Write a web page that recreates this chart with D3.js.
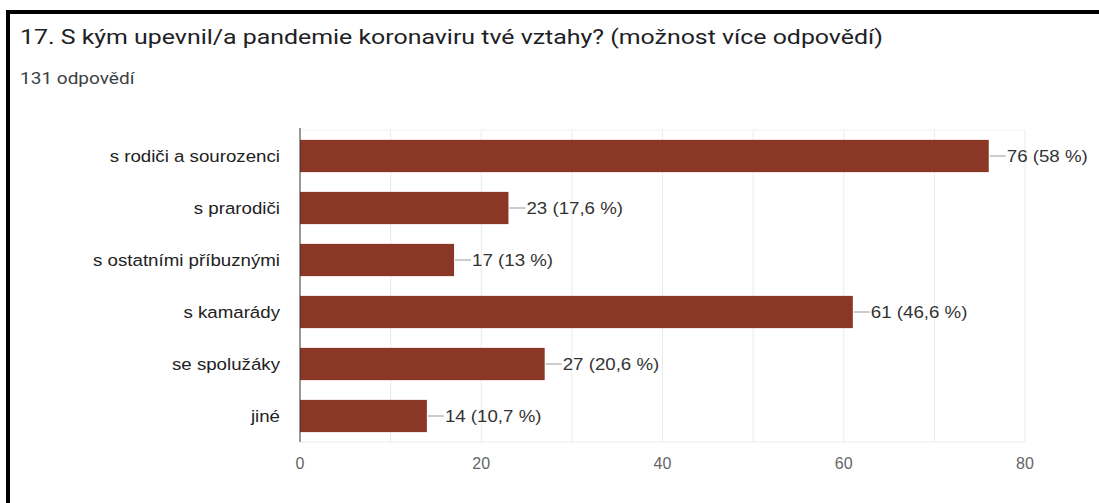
<!DOCTYPE html>
<html>
<head>
<meta charset="utf-8">
<script src="https://cdn.jsdelivr.net/npm/d3@7"></script>
<style>
  body { margin: 0; background: #fff; }
  svg { display: block; }
</style>
</head>
<body>
<svg id="chart" width="1099" height="503"></svg>
<script>
// data
var categories = ["s rodiči a sourozenci", "s prarodiči", "s ostatními příbuznými", "s kamarády", "se spolužáky", "jiné"];
var counts = [76, 23, 17, 61, 27, 14];
var percents = ["58 %", "17,6 %", "13 %", "46,6 %", "20,6 %", "10,7 %"];
var xTicks = [0, 20, 40, 60, 80];
var gridTicks = [10, 20, 30, 40, 50, 60, 70, 80];
var title = "17. S kým upevnil/a pandemie koronaviru tvé vztahy? (možnost více odpovědí)";
var subtitle = "131 odpovědí";

function vis_bars() {
  var svg = d3.select("#chart");

  // frame (top + left thick border)
  svg.append("rect").attr("x", 6).attr("y", 10).attr("width", 1099).attr("height", 4).attr("fill", "#000");
  svg.append("rect").attr("x", 6).attr("y", 10).attr("width", 4).attr("height", 503).attr("fill", "#000");

  // screenshot text is a bit stretched sideways, so scale x only
  svg.append("text")
    .attr("transform", "translate(20,44) scale(1.245,1)")
    .style("font-family", "Roboto, sans-serif")
    .style("font-size", "20px")
    .style("fill", "#202124")
    .text(title);

  svg.append("text")
    .attr("transform", "translate(20,84) scale(1.12,1)")
    .style("font-family", "Roboto, sans-serif")
    .style("font-size", "17px")
    .style("fill", "#3c4043")
    .text(subtitle);

  var left = 300, right = 1025, top = 130, bottom = 442;

  var x = d3.scaleLinear().domain([0, 80]).range([left, right]);
  var y = d3.scaleBand().domain(categories).range([top, bottom]).paddingInner(0.38).paddingOuter(0.19);

  var g = svg.append("g");

  // gridlines
  g.selectAll(".grid")
    .data(gridTicks)
    .enter()
    .append("line")
      .attr("x1", function(d) { return x(d); })
      .attr("x2", function(d) { return x(d); })
      .attr("y1", top).attr("y2", bottom)
      .style("stroke", "#ebebeb")
      .style("stroke-width", 1);

  g.append("line")
    .attr("x1", left).attr("x2", right)
    .attr("y1", top).attr("y2", top)
    .style("stroke", "#f2f2f2");

  g.append("line")
    .attr("x1", left).attr("x2", right)
    .attr("y1", bottom).attr("y2", bottom)
    .style("stroke", "#ebebeb");

  // bars
  g.selectAll(".bar")
    .data(counts)
    .enter()
    .append("rect")
      .attr("class", "bar")
      .attr("x", x(0))
      .attr("y", function(d, i) { return y(categories[i]); })
      .attr("width", function(d) { return x(d) - x(0); })
      .attr("height", y.bandwidth())
      .attr("fill", "#8a3728");

  // baseline
  g.append("line")
    .attr("x1", x(0)).attr("x2", x(0))
    .attr("y1", top - 2).attr("y2", bottom)
    .style("stroke", "#333")
    .style("stroke-width", 1);

  // value labels with leader line
  g.selectAll(".lead")
    .data(counts)
    .enter()
    .append("line")
      .attr("x1", function(d) { return x(d) + 1; })
      .attr("x2", function(d) { return x(d) + 17; })
      .attr("y1", function(d, i) { return y(categories[i]) + y.bandwidth() / 2; })
      .attr("y2", function(d, i) { return y(categories[i]) + y.bandwidth() / 2; })
      .style("stroke", "#999");

  g.selectAll(".val")
    .data(counts)
    .enter()
    .append("text")
      .attr("transform", function(d, i) {
        return "translate(" + (x(d) + 18) + "," + (y(categories[i]) + y.bandwidth() / 2) + ") scale(1.1,1)";
      })
      .attr("dy", "0.35em")
      .style("font-family", "'Liberation Sans', Arial, sans-serif")
      .style("font-size", "17px")
      .style("fill", "#333")
      .text(function(d, i) { return d + " (" + percents[i] + ")"; });

  // category labels
  g.selectAll(".cat")
    .data(categories)
    .enter()
    .append("text")
      .attr("transform", function(d) {
        return "translate(280," + (y(d) + y.bandwidth() / 2) + ") scale(1.1,1)";
      })
      .attr("dy", "0.35em")
      .attr("text-anchor", "end")
      .style("font-family", "'Liberation Sans', Arial, sans-serif")
      .style("font-size", "17px")
      .style("fill", "#222")
      .text(function(d) { return d; });

  // x axis labels
  g.selectAll(".tick")
    .data(xTicks)
    .enter()
    .append("text")
      .attr("x", function(d) { return x(d); })
      .attr("y", 469)
      .attr("text-anchor", "middle")
      .style("font-family", "'Liberation Sans', Arial, sans-serif")
      .style("font-size", "16px")
      .style("fill", "#666")
      .text(function(d) { return d; });
}

vis_bars();
</script>
</body>
</html>
